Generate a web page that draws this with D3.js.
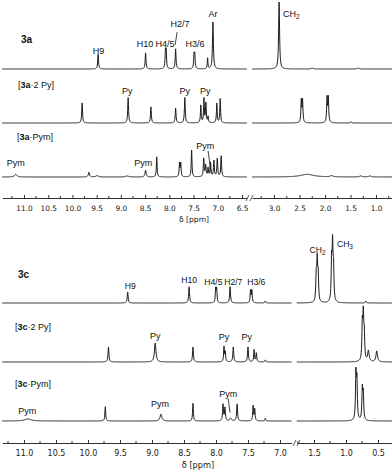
<!DOCTYPE html>
<html>
<head>
<meta charset="utf-8">
<script src="https://cdn.jsdelivr.net/npm/d3@7"></script>
<style>
  body { margin: 0; background: #fff; }
  svg { display: block; }
  .lbl { font-family: "Liberation Sans", Arial, sans-serif; font-size: 9px; fill: #111; }
  .axis text { font-family: "DejaVu Sans", Verdana, sans-serif; fill: #1a1a1a; }
  .axis line, .axis path { stroke: #333; }
</style>
</head>
<body>
<svg id="chart" width="392" height="471"></svg>
<script>
// peak lists: [delta ppm, intensity, half width ppm]
let peaks3a = [
  [9.47, 22, 0.01], [8.49, 24, 0.01], [8.08, 25, 0.009], [8.065, 25, 0.009],
  [7.87, 30, 0.01], [7.49, 20, 0.009], [7.475, 20, 0.009], [7.21, 16, 0.008],
  [7.10, 70, 0.011], [2.90, 100, 0.011], [2.25, 1.5, 0.02], [1.35, 1.5, 0.02]
];
let peaks3aPy = [
  [9.80, 30, 0.01], [8.85, 38, 0.01], [8.38, 24, 0.01], [7.87, 22, 0.01],
  [7.68, 38, 0.01], [7.35, 26, 0.009], [7.285, 36, 0.009], [7.245, 29, 0.009],
  [7.20, 9, 0.009], [7.02, 29, 0.009], [6.95, 36, 0.009],
  [2.465, 33, 0.009], [2.44, 33, 0.009], [1.96, 37, 0.009], [1.935, 37, 0.009],
  [1.49, 2, 0.01]
];
let peaks3aPym = [
  [11.17, 4, 0.03], [9.66, 7, 0.014], [9.49, 2, 0.03], [8.87, 1.5, 0.04],
  [8.49, 10, 0.014], [8.26, 30, 0.009], [7.79, 20, 0.009], [7.765, 20, 0.009],
  [7.54, 40, 0.009], [7.29, 27, 0.01], [7.25, 17, 0.01], [7.20, 13, 0.01],
  [7.15, 21, 0.01], [7.08, 24, 0.01], [7.01, 27, 0.01], [6.93, 31, 0.01],
  [2.35, 4, 0.15], [1.87, 2, 0.03], [1.30, 1.5, 0.03], [1.12, 1.5, 0.03]
];
let peaks3c = [
  [9.38, 16, 0.008], [8.42, 24, 0.008], [8.005, 20, 0.007], [7.99, 20, 0.007],
  [7.78, 24, 0.008], [7.46, 18, 0.007], [7.44, 18, 0.007], [7.23, 3, 0.008],
  [1.465, 38, 0.008], [1.45, 56, 0.008], [1.435, 38, 0.008],
  [1.225, 56, 0.008], [1.21, 78, 0.008], [1.195, 46, 0.008], [0.69, 3, 0.008]
];
let peaks3cPy = [
  [9.68, 22, 0.008], [8.95, 28, 0.014], [8.36, 22, 0.008], [7.875, 22, 0.007],
  [7.855, 14, 0.007], [7.73, 22, 0.008], [7.50, 22, 0.008], [7.405, 18, 0.007],
  [7.37, 13, 0.007], [7.23, 3, 0.008],
  [0.745, 52, 0.008], [0.73, 62, 0.008], [0.715, 38, 0.008],
  [0.65, 16, 0.014], [0.52, 16, 0.014]
];
let peaks3cPym = [
  [10.94, 3, 0.06], [9.73, 21, 0.007], [8.86, 10, 0.017], [8.36, 26, 0.007],
  [7.89, 24, 0.008], [7.86, 19, 0.008], [7.77, 4, 0.015], [7.67, 25, 0.008],
  [7.42, 22, 0.007], [7.395, 17, 0.007], [7.23, 4, 0.007],
  [0.845, 66, 0.008], [0.83, 56, 0.008], [0.745, 45, 0.008], [0.73, 37, 0.008]
];

// axis tick labels (ppm)
let ticksTopLeft = [11.0, 10.5, 10.0, 9.5, 9.0, 8.5, 8.0, 7.5, 7.0, 6.5];
let ticksTopRight = [3.0, 2.5, 2.0, 1.5, 1.0];
let ticksBotLeft = [11.0, 10.5, 10.0, 9.5, 9.0, 8.5, 8.0, 7.5, 7.0];
let ticksBotRight = [1.5, 1.0, 0.5];

// spectrum names
let namesTop = ["3a", "[3a·2 Py]", "[3a·Pym]"];
let namesBot = ["3c", "[3c·2 Py]", "[3c·Pym]"];

// assignments: [text, delta ppm, height (intensity units)]
let labels3a = [["H9", 9.46, 22], ["H10", 8.50, 33], ["H4/5", 8.09, 33], ["H2/7", 7.78, 62],
  ["H3/6", 7.47, 33], ["Ar", 7.10, 77], ["CH2", 2.66, 77]];
let labels3aPy = [["Py", 8.87, 44], ["Py", 7.68, 44], ["Py", 7.26, 44]];
let labels3aPym = [["Pym", 11.17, 16], ["Pym", 8.54, 16], ["Pym", 7.26, 42]];
let labels3c = [["H9", 9.34, 21], ["H10", 8.42, 30], ["H4/5", 8.04, 26], ["H2/7", 7.73, 26],
  ["H3/6", 7.37, 26], ["CH2", 1.445, 74], ["CH3", 1.016, 82]];
let labels3cPy = [["Py", 8.95, 34], ["Py", 7.875, 33], ["Py", 7.52, 33]];
let labels3cPym = [["Pym", 10.95, 11], ["Pym", 8.875, 20], ["Pym", 7.81, 36]];

let svg = d3.select("#chart");

// scales: each panel has a broken ppm axis (two segments)
let topSegs = [
  { x: d3.scaleLinear().domain([11.0, 6.5]).range([24, 242]), ext: [11.45, 6.40], ticks: ticksTopLeft },
  { x: d3.scaleLinear().domain([3.0, 1.0]).range([274, 376]), ext: [3.43, 0.68], ticks: ticksTopRight }
];
let botSegs = [
  { x: d3.scaleLinear().domain([11.0, 7.0]).range([24, 280]), ext: [11.34, 6.82], ticks: ticksBotLeft },
  { x: d3.scaleLinear().domain([1.5, 0.5]).range([314, 378]), ext: [1.77, 0.28], ticks: ticksBotRight }
];
let yTop = d3.scaleLinear().domain([0, 100]).range([0, 67]);
let yBot = d3.scaleLinear().domain([0, 100]).range([0, 68]);

function segFor(segs, ppm) {
  return segs.find(s => ppm <= s.ext[0] && ppm >= s.ext[1]);
}

// draw one spectrum trace (lorentzian lines summed) on both segments
function drawTrace(segs, peaks, base, yI) {
  segs.forEach(s => {
    let x0 = s.x(s.ext[0]), x1 = s.x(s.ext[1]);
    let xs = d3.range(x0, x1, 0.25).concat([x1],
      peaks.map(p => s.x(p[0])).filter(v => v > x0 && v < x1)).sort((a, b) => a - b);
    let pts = xs.map(px => {
      let d = s.x.invert(px);
      let v = d3.sum(peaks, p => p[1] * p[2] * p[2] / ((d - p[0]) ** 2 + p[2] * p[2]));
      return [px, base - yI(v)];
    });
    svg.append("path")
      .attr("d", d3.line()(pts))
      .attr("fill", "none")
      .attr("stroke", "#1c1c1c")
      .attr("stroke-width", 1);
  });
}

// peak labels, "CH2"/"CH3" get a subscript
function drawLabels(segs, labels, base, yI, size) {
  labels.forEach(l => {
    let s = segFor(segs, l[1]);
    let t = svg.append("text")
      .attr("class", "lbl")
      .attr("x", s.x(l[1]))
      .attr("y", base - yI(l[2]))
      .attr("text-anchor", "middle")
      .style("font-size", size + "px");
    let m = l[0].match(/^(CH)(\d)$/);
    if (m) {
      t.append("tspan").text(m[1]);
      t.append("tspan").attr("font-size", "6.5px").attr("dy", 2).text(m[2]);
    } else {
      t.text(l[0]);
    }
  });
}

// spectrum name, compound number in bold
function drawName(name, x, y, size) {
  let t = svg.append("text").attr("class", "lbl").attr("x", x).attr("y", y)
    .style("font-size", size + "px");
  name.split(/(3[ac])/).forEach(part => {
    if (!part) return;
    let sp = t.append("tspan").text(part);
    if (/^3[ac]$/.test(part)) sp.attr("font-weight", "bold");
  });
}

function leader(segs, a, b, base, yI) {
  let s = segFor(segs, a[0]);
  svg.append("line")
    .attr("x1", s.x(a[0])).attr("y1", base - yI(a[1]))
    .attr("x2", s.x(b[0])).attr("y2", base - yI(b[1]))
    .attr("stroke", "#111").attr("stroke-width", 0.8);
}

function drawAxis(segs, y, fontSize, breakX) {
  segs.forEach(s => {
    let axScale = s.x.copy().domain(s.ext).range(s.ext.map(s.x));
    let g = svg.append("g")
      .attr("class", "axis")
      .attr("transform", `translate(0, ${y})`)
      .call(d3.axisBottom(axScale)
        .tickValues(s.ticks)
        .tickFormat(d3.format(".1f"))
        .tickSizeInner(-3)
        .tickSizeOuter(0)
        .tickPadding(7.5));
    g.selectAll("text").style("font-size", fontSize + "px");
    // minor ticks every 0.25 ppm
    let minor = d3.range(Math.ceil(s.ext[1] * 4), Math.floor(s.ext[0] * 4) + 1)
      .map(v => v / 4).filter(v => v % 0.5 !== 0);
    g.selectAll(".minor").data(minor).enter().append("line")
      .attr("x1", d => s.x(d)).attr("x2", d => s.x(d))
      .attr("y1", 0).attr("y2", -2)
      .attr("stroke", "#333");
  });
  // axis break marks
  [0, 4].forEach(o => {
    svg.append("line")
      .attr("x1", breakX + o).attr("y1", y + 3)
      .attr("x2", breakX + o + 3).attr("y2", y - 3)
      .attr("stroke", "#333").attr("stroke-width", 0.8);
  });
}

function axisTitle(x, y, size) {
  svg.append("text").attr("x", x).attr("y", y)
    .attr("text-anchor", "middle")
    .style("font-family", "'DejaVu Sans', Verdana, sans-serif")
    .style("font-size", size + "px").style("fill", "#1a1a1a")
    .text("δ [ppm]");
}

// ---- top panel (3a)
let topBase = [69, 123, 177];
drawTrace(topSegs, peaks3a, topBase[0], yTop);
drawTrace(topSegs, peaks3aPy, topBase[1], yTop);
drawTrace(topSegs, peaks3aPym, topBase[2], yTop);
drawLabels(topSegs, labels3a, topBase[0], yTop, 9);
drawLabels(topSegs, labels3aPy, topBase[1], yTop, 9);
drawLabels(topSegs, labels3aPym, topBase[2], yTop, 9);
leader(topSegs, [7.84, 55], [7.88, 36], topBase[0], yTop);
leader(topSegs, [7.20, 39], [7.14, 7], topBase[2], yTop);
drawName(namesTop[0], 21, 43, 10);
drawName(namesTop[1], 18, 88, 9);
drawName(namesTop[2], 17, 140, 9);
drawAxis(topSegs, 198, 7.4, 246);
axisTitle(194, 222, 7.6);

// ---- bottom panel (3c)
let botBase = [303, 362, 421];
drawTrace(botSegs, peaks3c, botBase[0], yBot);
drawTrace(botSegs, peaks3cPy, botBase[1], yBot);
drawTrace(botSegs, peaks3cPym, botBase[2], yBot);
drawLabels(botSegs, labels3c, botBase[0], yBot, 8.6);
drawLabels(botSegs, labels3cPy, botBase[1], yBot, 9);
drawLabels(botSegs, labels3cPym, botBase[2], yBot, 9);
leader(botSegs, [7.81, 33], [7.78, 12], botBase[2], yBot);
drawName(namesBot[0], 18, 278, 10);
drawName(namesBot[1], 15, 330, 9);
drawName(namesBot[2], 15, 387, 9);
drawAxis(botSegs, 443, 8, 293);
axisTitle(198, 468, 8.2);
</script>
</body>
</html>
